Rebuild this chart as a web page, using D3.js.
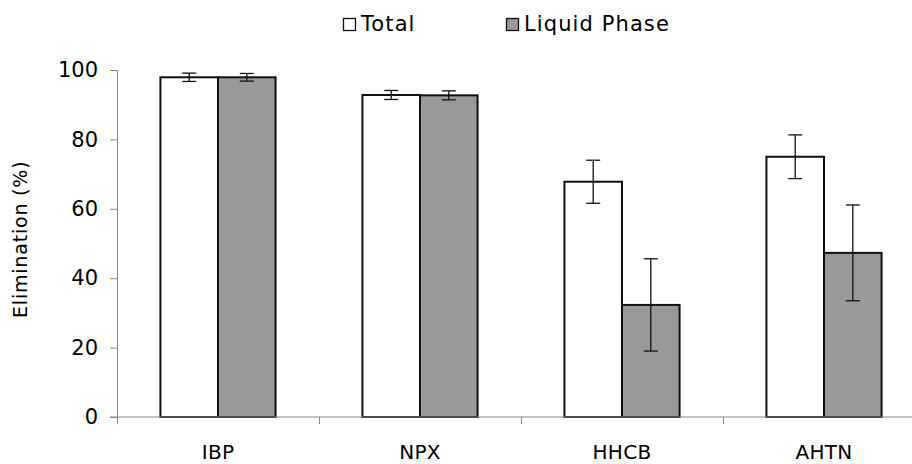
<!DOCTYPE html>
<html>
<head>
<meta charset="utf-8">
<script src="https://cdn.jsdelivr.net/npm/d3@7"></script>
<style>
  html, body { margin: 0; padding: 0; background: #fff; }
  svg { display: block; font-family: "DejaVu Sans", Verdana, sans-serif; }
</style>
</head>
<body>
<svg id="chart" width="912" height="464"></svg>
<script>
// Compounds on the x axis
const categories = ["IBP", "NPX", "HHCB", "AHTN"];
// Series names shown in the legend
const seriesNames = ["Total", "Liquid Phase"];
// Mean elimination (%) per compound
const totalValues = [97.9, 92.8, 67.8, 75.0];
const liquidValues = [97.9, 92.7, 32.3, 47.3];
// Standard deviations drawn as error bars
const totalErrors = [1.2, 1.3, 6.2, 6.3];
const liquidErrors = [1.1, 1.3, 13.3, 13.8];
// Y axis ticks
const yTicks = [0, 20, 40, 60, 80, 100];

const seriesFill = { "Total": "#ffffff", "Liquid Phase": "#999999" };

const svg = d3.select("#chart");

const plot = { left: 117, right: 925, top: 70, bottom: 417 };

const x = d3.scaleBand().domain(categories).range([plot.left, plot.right]).padding(0);
const groupFrac = 0.57;
const x1 = d3.scaleBand().domain(seriesNames)
  .range([x.bandwidth() * (1 - groupFrac) / 2, x.bandwidth() * (1 + groupFrac) / 2]);
const y = d3.scaleLinear().domain([0, 100]).range([plot.bottom, plot.top]);

const rows = categories.map((c, i) => ({
  cat: c,
  items: [
    { s: "Total", v: totalValues[i], e: totalErrors[i] },
    { s: "Liquid Phase", v: liquidValues[i], e: liquidErrors[i] }
  ]
}));

// Y axis
const yAxis = svg.append("g")
  .attr("transform", `translate(${plot.left},0)`)
  .call(d3.axisLeft(y).tickValues(yTicks).tickSize(7).tickPadding(12).tickFormat(d3.format("d")));
yAxis.select(".domain").attr("stroke", "#888").attr("stroke-width", 1);
yAxis.selectAll(".tick line").attr("stroke", "#888");
yAxis.selectAll("text").attr("font-size", 21).attr("fill", "#000").attr("font-family", "DejaVu Sans, Verdana, sans-serif");

// Bars
const groups = svg.append("g").selectAll("g").data(rows).join("g")
  .attr("transform", d => `translate(${x(d.cat)},0)`);

groups.selectAll("rect").data(d => d.items).join("rect")
  .attr("x", d => x1(d.s))
  .attr("y", d => y(d.v))
  .attr("width", x1.bandwidth())
  .attr("height", d => y(0) - y(d.v))
  .attr("fill", d => seriesFill[d.s])
  .attr("stroke", "#111")
  .attr("stroke-width", 2);

// X axis (ticks between categories)
const xAxisG = svg.append("g").attr("transform", `translate(0,${plot.bottom})`);
xAxisG.append("line")
  .attr("x1", plot.left - 7).attr("x2", plot.right)
  .attr("stroke", "#888").attr("stroke-width", 1);
xAxisG.selectAll("line.tk").data(categories).join("line").attr("class", "tk")
  .attr("x1", d => x(d) + 0.5).attr("x2", d => x(d) + 0.5)
  .attr("y1", 0).attr("y2", 7)
  .attr("stroke", "#888");
xAxisG.selectAll("text").data(categories).join("text")
  .attr("x", d => x(d) + x.bandwidth() / 2)
  .attr("y", 42)
  .attr("text-anchor", "middle")
  .attr("font-size", 20)
  .attr("letter-spacing", 0.3)
  .attr("fill", "#000")
  .text(d => d);

// Error bars
const capHalf = 7;
const eb = groups.selectAll("g.err").data(d => d.items).join("g").attr("class", "err")
  .attr("stroke", "#111").attr("stroke-width", 1.3);
eb.append("line")
  .attr("x1", d => x1(d.s) + x1.bandwidth() / 2).attr("x2", d => x1(d.s) + x1.bandwidth() / 2)
  .attr("y1", d => y(d.v + d.e)).attr("y2", d => y(d.v - d.e));
eb.append("line")
  .attr("x1", d => x1(d.s) + x1.bandwidth() / 2 - capHalf).attr("x2", d => x1(d.s) + x1.bandwidth() / 2 + capHalf)
  .attr("y1", d => y(d.v + d.e)).attr("y2", d => y(d.v + d.e));
eb.append("line")
  .attr("x1", d => x1(d.s) + x1.bandwidth() / 2 - capHalf).attr("x2", d => x1(d.s) + x1.bandwidth() / 2 + capHalf)
  .attr("y1", d => y(d.v - d.e)).attr("y2", d => y(d.v - d.e));

// Y axis title
svg.append("text")
  .attr("transform", "translate(27,318) rotate(-90)")
  .attr("text-anchor", "start")
  .attr("font-size", 19)
  .attr("letter-spacing", 0.8)
  .attr("fill", "#000")
  .text("Elimination (%)");

// Legend
const legendX = [343, 506];
const legend = svg.append("g").selectAll("g").data(seriesNames).join("g")
  .attr("transform", (d, i) => `translate(${legendX[i]},18)`);
legend.append("rect")
  .attr("x", 0.5).attr("y", 0.5).attr("width", 12).attr("height", 12)
  .attr("fill", d => seriesFill[d]).attr("stroke", "#111").attr("stroke-width", 1.3);
legend.append("text")
  .attr("x", 18).attr("y", 13)
  .attr("font-size", 21)
  .attr("letter-spacing", 1.1)
  .attr("fill", "#000")
  .text(d => d);
</script>
</body>
</html>
